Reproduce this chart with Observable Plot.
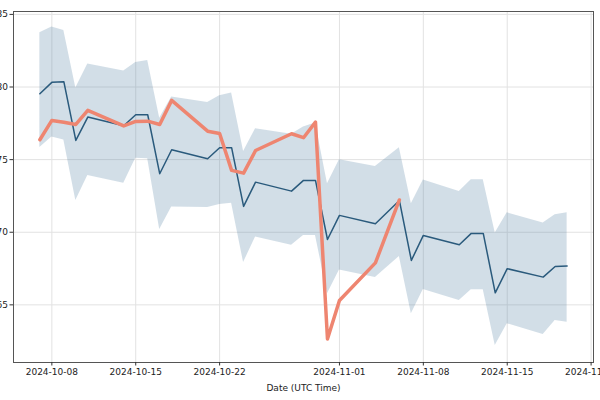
<!DOCTYPE html>
<html><head><meta charset="utf-8">
<script src="https://cdn.jsdelivr.net/npm/d3@7"></script>
<script src="https://cdn.jsdelivr.net/npm/@observablehq/plot@0.6"></script>
<style>body{margin:0;background:#fff;} #chart{position:absolute;left:0;top:0;}</style>
</head><body><div id="chart"></div>
<script>
const forecastDates = ["2024-10-07","2024-10-08","2024-10-09","2024-10-10","2024-10-11",
  "2024-10-14","2024-10-15","2024-10-16","2024-10-17","2024-10-18",
  "2024-10-21","2024-10-22","2024-10-23","2024-10-24","2024-10-25",
  "2024-10-28","2024-10-29","2024-10-30","2024-10-31","2024-11-01",
  "2024-11-04","2024-11-06","2024-11-07","2024-11-08",
  "2024-11-11","2024-11-12","2024-11-13","2024-11-14","2024-11-15",
  "2024-11-18","2024-11-19","2024-11-20"];
const forecast = [79.54,80.32,80.37,76.32,77.93,
  77.33,78.09,78.09,74.03,75.68,
  75.06,75.82,75.82,71.78,73.45,
  72.83,73.57,73.57,69.50,71.16,
  70.59,72.19,68.06,69.78,
  69.14,69.92,69.92,65.83,67.49,
  66.91,67.64,67.67];
const upper = [83.73,84.13,83.90,79.94,81.58,
  81.11,81.69,81.83,77.85,79.31,
  78.94,79.39,79.58,75.56,77.13,
  76.74,77.24,77.53,73.34,75.00,
  74.53,75.82,71.96,73.59,
  72.81,73.62,73.62,69.94,71.34,
  70.63,71.21,71.34];
const lower = [75.83,76.55,76.36,72.19,73.91,
  73.38,75.10,75.06,70.19,71.73,
  71.71,71.91,72.00,67.91,69.68,
  69.11,69.78,69.78,65.76,67.40,
  66.89,68.33,64.39,66.06,
  65.30,66.04,66.04,62.20,63.70,
  62.96,63.93,63.81];
const actualDates = ["2024-10-07","2024-10-08","2024-10-09","2024-10-10","2024-10-11",
  "2024-10-14","2024-10-15","2024-10-16","2024-10-17","2024-10-18",
  "2024-10-21","2024-10-22","2024-10-23","2024-10-24","2024-10-25",
  "2024-10-28","2024-10-29","2024-10-30","2024-10-31","2024-11-01",
  "2024-11-04","2024-11-06"];
const actual = [76.37,77.70,77.58,77.42,78.39,
  77.32,77.63,77.65,77.42,79.08,
  76.96,76.80,74.26,74.07,75.63,
  76.78,76.51,77.58,62.65,65.30,
  67.89,72.22];
const xTicks = ["2024-10-08","2024-10-15","2024-10-22","2024-11-01","2024-11-08","2024-11-15","2024-11-22"];
const yTicks = [65,70,75,80,85];

const parse = d3.utcParse("%Y-%m-%d");
const fc = forecastDates.map((d,i)=>({date: parse(d), yhat: forecast[i], lo: lower[i], hi: upper[i]}));
const act = actualDates.map((d,i)=>({date: parse(d), y: actual[i]}));
const xt = xTicks.map(parse);

const chart = Plot.plot({
  width:600, height:400, marginLeft:13, marginRight:7, marginTop:11, marginBottom:38,
  style:{fontFamily:"DejaVu Sans", fontSize:"9px", background:"#fff", color:"#222", overflow:"visible"},
  x:{type:"utc", domain:[new Date("2024-10-04T19:12Z"), new Date("2024-11-22T04:48Z")]},
  y:{domain:[61.03, 85.2]},
  marks:[
    Plot.gridX(xt, {stroke:"#e2e2e2", strokeOpacity:1}),
    Plot.gridY(yTicks, {stroke:"#e2e2e2", strokeOpacity:1}),
    Plot.areaY(fc, {x:"date", y1:"lo", y2:"hi", fill:"#4a7ca0", fillOpacity:0.25}),
    Plot.lineY(fc, {x:"date", y:"yhat", stroke:"#2a5a7c", strokeWidth:1.5}),
    Plot.lineY(act, {x:"date", y:"y", stroke:"#ee8570", strokeWidth:3.5}),
    Plot.frame({stroke:"#555"}),
    Plot.axisX(xt, {tickFormat: d3.utcFormat("%Y-%m-%d"), tickSize:3.5, tickPadding:3, label:"Date (UTC Time)", labelAnchor:"center", labelArrow:"none", labelOffset:28, stroke:"#333"}),
    Plot.axisY(yTicks, {tickSize:3.5, tickPadding:2, label:null, stroke:"#333"})
  ]
});
document.getElementById("chart").append(chart);
</script></body></html>
